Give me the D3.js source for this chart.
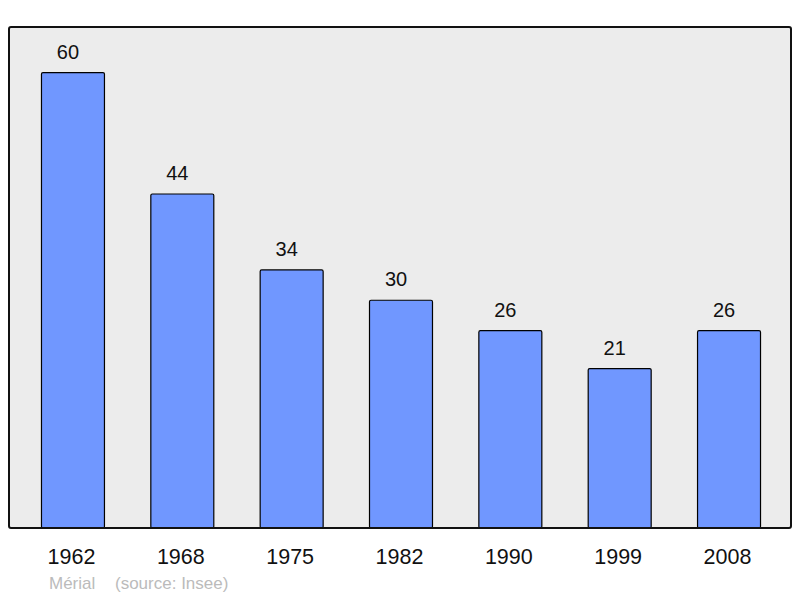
<!DOCTYPE html>
<html>
<head>
<meta charset="utf-8">
<script src="https://cdn.jsdelivr.net/npm/d3@7"></script>
<style>
  body { margin: 0; background: #fff; }
  text { font-family: "Liberation Sans", Arial, sans-serif; }
</style>
</head>
<body>
<div id="chart"></div>
<script>
let years = ['1962', '1968', '1975', '1982', '1990', '1999', '2008']
let population = [60, 44, 34, 30, 26, 21, 26]

let width = 800
let height = 598
let frame = {left: 9, top: 27, right: 791, bottom: 528}

let svg = d3.select('#chart').append('svg')
    .attr('width', width)
    .attr('height', height)

let x = d3.scaleBand()
    .domain(years)
    .range([18.3, 783.7])
    .paddingInner(0.424)
    .paddingOuter(0.212)

let y = d3.scaleLinear()
    .domain([0, 66])
    .range([frame.bottom, frame.top])

// plot background
svg.append('rect')
    .attr('x', frame.left)
    .attr('y', frame.top)
    .attr('width', frame.right - frame.left)
    .attr('height', frame.bottom - frame.top)
    .attr('rx', 2)
    .attr('fill', '#ececec')

svg.append('g').selectAll('rect')
    .data(years)
    .enter().append('rect')
      .attr('x', (d) => x(d))
      .attr('y', (d, i) => y(population[i]))
      .attr('width', x.bandwidth())
      .attr('height', (d, i) => y(0) - y(population[i]))
      .attr('rx', 1.5)
      .attr('fill', '#7097ff')
      .attr('stroke', '#000')
      .attr('stroke-width', 1.2)

// value labels sit a little left of the bar centre in the original
svg.append('g').selectAll('text')
    .data(years)
    .enter().append('text')
      .attr('x', (d) => x(d) + x.bandwidth() / 2 - 5)
      .attr('y', (d, i) => y(population[i]) - 14)
      .attr('text-anchor', 'middle')
      .attr('font-size', 20)
      .attr('fill', '#111')
      .text((d, i) => population[i])

// frame border on top
svg.append('rect')
    .attr('x', frame.left)
    .attr('y', frame.top)
    .attr('width', frame.right - frame.left)
    .attr('height', frame.bottom - frame.top)
    .attr('rx', 2)
    .attr('fill', 'none')
    .attr('stroke', '#111')
    .attr('stroke-width', 2)

svg.append('g').selectAll('text')
    .data(years)
    .enter().append('text')
      .attr('x', (d) => x(d) + x.bandwidth() / 2 - 1.5)
      .attr('y', 564)
      .attr('text-anchor', 'middle')
      .attr('font-size', 21.5)
      .attr('fill', '#111')
      .text((d) => d)

svg.append('text')
    .attr('x', 49)
    .attr('y', 589)
    .attr('font-size', 17)
    .attr('fill', '#bbb')
    .text('Mérial')

svg.append('text')
    .attr('x', 115)
    .attr('y', 589)
    .attr('font-size', 17)
    .attr('fill', '#bbb')
    .text('(source: Insee)')
</script>
</body>
</html>
